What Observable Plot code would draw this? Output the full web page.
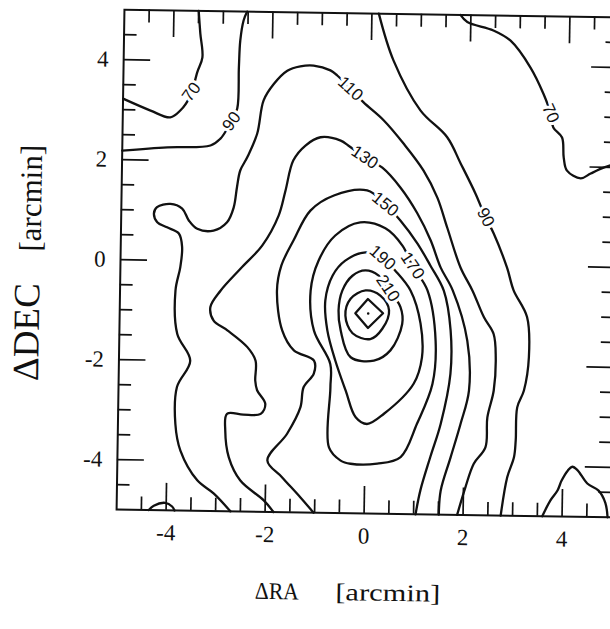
<!DOCTYPE html>
<html>
<head>
<meta charset="utf-8">
<script src="https://cdn.jsdelivr.net/npm/d3@7"></script>
<script src="https://cdn.jsdelivr.net/npm/@observablehq/plot@0.6"></script>
<style>
  html, body { margin: 0; padding: 0; background: #fff; overflow: hidden; }
  #wrap { width: 610px; height: 629px; overflow: hidden; position: relative; }
  #wrap svg { max-width: none !important; width: 620px; height: 629px; transform: rotate(0.9deg); transform-origin: 367.5px 263px; }
</style>
</head>
<body>
<div id="wrap"></div>
<script>
// Contour lines of the map, as [ΔRA, ΔDEC] vertices in arcmin.
const c70West = [[-5,3.22],[-4.44,2.99],[-4.04,2.86],[-3.84,3.0],[-3.64,3.30],[-3.51,3.77],[-3.41,4.07],[-3.46,4.55],[-3.5,5]];
const c90West = [[-5,2.18],[-4.09,2.26],[-3.22,2.31],[-3.02,2.45],[-2.88,2.66],[-2.80,2.80],[-2.69,3.06],[-2.67,3.89],[-2.65,4.42],[-2.59,4.82],[-2.52,5]];
const c70East = [[1.79,5],[1.93,4.86],[2.46,4.70],[2.81,4.50],[3.22,3.97],[3.49,3.45],[3.64,3.06],[3.70,2.78],[3.88,2.58],[3.92,2.18],[3.99,1.92],[4.27,1.77],[4.47,1.87],[4.73,1.99],[5,2.08]];
const c70SouthWest = [[-4.35,-5],[-4.25,-4.91],[-4.02,-4.85],[-3.88,-4.92],[-3.83,-5]];
const c70SouthEast = [[3.60,-5],[3.76,-4.68],[3.90,-4.48],[3.98,-4.28],[4.10,-4.08],[4.19,-4.0],[4.30,-4.07],[4.50,-4.33],[4.73,-4.47],[4.87,-4.71],[4.92,-5]];
const c90East = [[0.14,5],[0.45,4.07],[1.01,3.08],[1.56,2.55],[1.84,2.03],[2.15,1.43],[2.36,0.96],[2.53,0.64],[2.81,-0.04],[2.95,-0.49],[3.23,-1.02],[3.28,-1.82],[3.19,-2.49],[3.06,-2.83],[3.04,-3.49],[3.01,-3.83],[2.88,-4.23],[2.76,-5]];
const c110 = [[-2.70,-5],[-3.04,-4.65],[-3.38,-4.39],[-3.73,-3.80],[-3.84,-3.27],[-3.82,-2.53],[-3.56,-2.0],[-3.83,-1.47],[-3.88,-0.60],[-3.79,-0.13],[-3.76,0.27],[-3.83,0.54],[-4.07,0.66],[-4.27,0.76],[-4.34,0.93],[-4.28,1.06],[-4.01,1.13],[-3.77,1.04],[-3.63,0.80],[-3.46,0.64],[-3.13,0.61],[-2.86,0.78],[-2.73,1.08],[-2.67,1.49],[-2.61,1.82],[-2.47,2.09],[-2.28,2.56],[-2.16,3.23],[-1.96,3.56],[-1.69,3.83],[-1.43,3.92],[-1.16,3.94],[-0.82,3.85],[-0.68,3.75],[-0.41,3.49],[-0.14,3.22],[0.27,2.87],[0.68,2.41],[1.09,1.88],[1.38,1.34],[1.59,0.74],[1.87,-0.05],[2.12,-0.51],[2.36,-1.04],[2.56,-1.37],[2.61,-1.83],[2.58,-2.50],[2.46,-3.04],[2.43,-3.64],[2.20,-3.97],[2.04,-4.44],[1.88,-5]];
const c130 = [[-1.83,-5],[-2.03,-4.77],[-2.51,-4.38],[-2.75,-3.92],[-2.83,-3.39],[-2.80,-3.05],[-2.47,-3.06],[-2.12,-3.04],[-2.03,-2.84],[-2.20,-2.57],[-2.24,-2.38],[-2.24,-1.98],[-2.41,-1.71],[-2.82,-1.38],[-3.10,-1.19],[-3.17,-0.92],[-2.97,-0.59],[-2.57,-0.14],[-2.14,0.33],[-1.82,0.93],[-1.69,1.43],[-1.54,2.04],[-1.30,2.34],[-1.0,2.51],[-0.59,2.45],[-0.43,2.35],[-0.10,2.12],[0.26,1.92],[0.63,1.53],[0.98,1.02],[1.26,0.48],[1.47,-0.06],[1.72,-0.51],[2.03,-1.51],[2.08,-2.51],[1.92,-3.18],[1.73,-3.85],[1.54,-4.52],[1.51,-5]];
const c150 = [[-1.02,-5],[-1.29,-4.70],[-1.67,-4.30],[-1.97,-3.97],[-1.58,-3.43],[-1.32,-2.90],[-1.26,-2.49],[-1.06,-2.22],[-1.06,-1.96],[-1.47,-1.76],[-1.71,-1.37],[-1.83,-0.57],[-1.75,-0.07],[-1.51,0.44],[-1.18,1.04],[-0.71,1.35],[-0.04,1.46],[0.33,1.19],[0.64,0.87],[0.99,0.42],[1.26,-0.02],[1.54,-0.52],[1.69,-1.31],[1.70,-2.18],[1.52,-3.18],[1.32,-3.85],[1.13,-4.52],[1.04,-5]];
const c170 = [[0.90,-0.03],[1.21,-0.52],[1.39,-1.52],[1.34,-2.39],[1.04,-3.19],[0.72,-3.86],[0.25,-4.0],[-0.29,-4.01],[-0.49,-3.95],[-0.73,-3.69],[-0.72,-2.49],[-0.73,-2.02],[-1.07,-1.36],[-1.15,-0.56],[-1.0,0.04],[-0.67,0.55],[-0.17,0.82],[0.34,0.71],[0.69,0.37]];
const c190 = [[0.29,0.12],[0.55,-0.13],[0.87,-0.53],[1.08,-1.18],[1.12,-1.86],[0.96,-2.39],[0.37,-3.0],[0.03,-3.21],[-0.20,-3.08],[-0.41,-2.55],[-0.63,-1.95],[-0.80,-1.35],[-0.85,-0.75],[-0.71,-0.25],[-0.46,0.05],[-0.05,0.22]];
const c210 = [[0.41,-0.49],[0.67,-0.86],[0.71,-1.20],[0.48,-1.73],[0.15,-1.94],[-0.32,-1.88],[-0.53,-1.35],[-0.58,-0.95],[-0.51,-0.55],[-0.31,-0.25],[-0.05,-0.14],[0.22,-0.24]];
const c230 = [[0.44,-0.93],[0.31,-1.30],[0.07,-1.51],[-0.29,-1.40],[-0.44,-1.05],[-0.34,-0.71],[-0.04,-0.54],[0.26,-0.64]];
const c250 = [[0.01,-0.71],[0.32,-0.99],[0.02,-1.29],[-0.24,-1.0]];
const peak = [[0.02,-1.0]];

// Contour level labels: value, position on its line, and text angle (degrees).
const labelText  = ["70", "90", "110", "130", "150", "170", "190", "210", "70", "90"];
const labelX     = [-3.62, -2.80, -0.41, -0.10, 0.33, 0.90, 0.29, 0.41, 3.64, 2.36];
const labelY     = [3.375, 2.80, 3.49, 2.12, 1.19, -0.03, 0.12, -0.49, 3.06, 0.96];
const labelAngle = [-55, -55, 42, 33, 38, 55, 40, 55, 65, 62];

// Axis ticks
const tickValues = [-4, -2, 0, 2, 4];
const tickLabels = ["-4", "-2", "0", "2", "4"];
const minorTicks = [-4.5, -3.5, -3, -2.5, -1.5, -1, -0.5, 0.5, 1, 1.5, 2.5, 3, 3.5, 4.5];

const openLines = [c70West, c90West, c70East, c70SouthWest, c70SouthEast, c90East, c110, c130, c150];
const closedLines = [c170, c190, c210, c230];

const W = 620, H = 629, mL = 120, mR = 5, mT = 13, mB = 116;
const xPerPx = 10 / (W - mL - mR), yPerPx = 10 / (H - mT - mB);
const majorLen = 27, minorLen = 13;
const ink = "#111";
const serif = "Liberation Serif, Times New Roman, serif";
const sans = "Liberation Sans, Arial, sans-serif";

const labels = labelText.map((t, i) => ({text: t, x: labelX[i], y: labelY[i], angle: labelAngle[i]}));

const tickMarks = [];
for (const [vals, len] of [[tickValues, majorLen], [minorTicks, minorLen]]) {
  const opt = {stroke: ink, strokeWidth: 1.7};
  tickMarks.push(
    Plot.ruleX(vals, {x: d => d, y1: -5, y2: -5 + len * yPerPx, ...opt}),
    Plot.ruleX(vals, {x: d => d, y1: 5, y2: 5 - len * yPerPx, ...opt}),
    Plot.ruleY(vals, {y: d => d, x1: -5, x2: -5 + len * xPerPx, ...opt}),
    Plot.ruleY(vals, {y: d => d, x1: 5, x2: 5 - len * xPerPx, ...opt})
  );
}

const lineOpt = {x: d => d[0], y: d => d[1], stroke: ink, strokeWidth: 2.3, strokeLinejoin: "round"};

const chart = Plot.plot({
  width: W,
  height: H,
  marginLeft: mL,
  marginRight: mR,
  marginTop: mT,
  marginBottom: mB,
  x: {domain: [-5, 5], axis: null},
  y: {domain: [-5, 5], axis: null},
  style: {background: "white", overflow: "visible"},
  marks: [
    ...openLines.map(pts => Plot.line(pts, {...lineOpt, curve: "catmull-rom"})),
    ...closedLines.map(pts => Plot.line(pts, {...lineOpt, curve: "catmull-rom-closed"})),
    Plot.line(c250, {...lineOpt, curve: "linear-closed"}),
    Plot.dot(peak, {x: d => d[0], y: d => d[1], r: 1.3, fill: ink, stroke: null}),
    Plot.text(labels, {
      x: "x", y: "y", text: "text", rotate: "angle",
      fontSize: 17, fontFamily: sans, fill: ink,
      stroke: "white", strokeWidth: 6, paintOrder: "stroke"
    }),
    Plot.frame({stroke: ink, strokeWidth: 2}),
    ...tickMarks,
    Plot.text(tickValues, {x: d => d, text: (d, i) => tickLabels[i], frameAnchor: "bottom", dy: 30, fontSize: 23, fontFamily: serif, fill: ink}),
    Plot.text(tickValues, {y: d => d, text: (d, i) => tickLabels[i], frameAnchor: "left", dx: -15, textAnchor: "end", fontSize: 23, fontFamily: serif, fill: ink}),
    Plot.text(["ΔRA"], {frameAnchor: "bottom", textAnchor: "middle", dx: -86, dy: 87, fontSize: 24, fontFamily: serif, fill: ink}),
    Plot.text(["[arcmin]"], {frameAnchor: "bottom", textAnchor: "middle", dx: 25, dy: 87, fontSize: 24, fontFamily: serif, fill: ink}),
    Plot.text(["ΔDEC"], {frameAnchor: "left", textAnchor: "middle", dx: -92.5, dy: 74, rotate: -90, fontSize: 37, fontFamily: serif, fill: ink}),
    Plot.text(["[arcmin]"], {frameAnchor: "left", textAnchor: "middle", dx: -90, dy: -60, rotate: -90, fontSize: 31, fontFamily: serif, fill: ink})
  ]
});

document.getElementById("wrap").appendChild(chart);

// Horizontal axis title pieces are set to the same run widths as in print.
const xTitleWidths = {"ΔRA": 44, "[arcmin]": 105};
d3.select(chart).selectAll("text")
  .filter(function () {
    const t = (this.getAttribute("transform") || "") + (this.parentNode.getAttribute("transform") || "");
    return this.textContent in xTitleWidths && !t.includes("rotate");
  })
  .attr("textLength", function () { return xTitleWidths[this.textContent]; })
  .attr("lengthAdjust", "spacingAndGlyphs");
</script>
</body>
</html>
